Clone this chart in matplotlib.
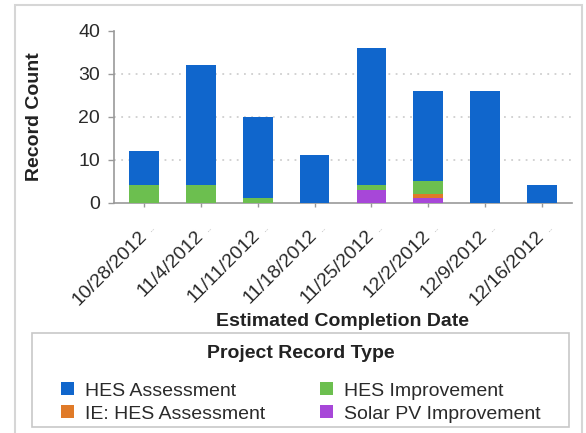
import matplotlib
matplotlib.use("Agg")
import matplotlib.pyplot as plt
from matplotlib.patches import Patch, Rectangle
import numpy as np

plt.rcParams['font.family'] = ['Liberation Sans', 'DejaVu Sans']

# Weekly record counts by project record type
dates = ['10/28/2012', '11/4/2012', '11/11/2012', '11/18/2012',
         '11/25/2012', '12/2/2012', '12/9/2012', '12/16/2012']
solar_pv_improvement = [0, 0, 0, 0, 3, 1, 0, 0]
ie_hes_assessment = [0, 0, 0, 0, 0, 1, 0, 0]
hes_improvement = [4, 4, 1, 0, 1, 3, 0, 0]
hes_assessment = [8, 28, 19, 11, 32, 21, 26, 4]
y_ticks = [0, 10, 20, 30, 40]
grid_levels = [10, 20, 30]

series = [
    ('Solar PV Improvement', solar_pv_improvement, '#a747d8'),
    ('IE: HES Assessment', ie_hes_assessment, '#e07a28'),
    ('HES Improvement', hes_improvement, '#6cbf4f'),
    ('HES Assessment', hes_assessment, '#1066cc'),
]

W, H = 586, 433
fig = plt.figure(figsize=(W / 100, H / 100), dpi=100)
ax = fig.add_axes([114 / W, 1 - 202.7 / H, 458 / W, 172 / H])

x = np.arange(len(dates))
bottom = np.zeros(len(dates))
for name, vals, color in series:
    vals = np.array(vals, dtype=float)
    ax.bar(x, vals, width=0.52, bottom=bottom, color=color, zorder=3, linewidth=0)
    bottom += vals

for lvl in grid_levels:
    ax.axhline(lvl, color='#cfcfcf', lw=1.3, linestyle=(0, (1, 3)), zorder=1)

ax.set_xlim(-0.53, 7.53)
ax.set_ylim(0, 40)
ax.set_yticks(y_ticks)
ax.set_xticks(x)
ax.set_xticklabels(dates, rotation=45, ha='right', va='center',
                   rotation_mode='anchor')
for lab in ax.get_xticklabels():
    lab.set_color('#2a2a2a')

ax.tick_params(axis='x', length=3, width=1, color='#999999', pad=19,
               labelsize=14)
ax.tick_params(axis='y', length=4, width=1, color='#999999', pad=6,
               labelsize=14, labelcolor='#2a2a2a')

for side in ('top', 'right'):
    ax.spines[side].set_visible(False)
for side in ('left', 'bottom'):
    ax.spines[side].set_color('#999999')
    ax.spines[side].set_linewidth(1.2)

# faded overflow marks after each date label
for xi in x:
    ax.annotate('..', xy=(xi, 0), xycoords=('data', 'axes fraction'),
                xytext=(3.6, -19.5), textcoords='offset points',
                rotation=45, rotation_mode='anchor', ha='left', va='center',
                fontsize=9, color='#bdbdbd', annotation_clip=False)

ax.set_ylabel('Record Count', fontsize=14, fontweight='bold', color='#222222')
ax.yaxis.set_label_coords((43 - 114) / 458, 0.5)
ax.set_xlabel('Estimated Completion Date', fontsize=14, fontweight='bold',
              color='#222222')
ax.xaxis.label.set_va('center')
ax.xaxis.set_label_coords(0.5, (202.7 - 321.7) / 172)

# outer frame
fig.patches.append(Rectangle((15 / W, -0.02), (582 - 15) / W, (433 - 5) / H + 0.02,
                             transform=fig.transFigure, fill=False,
                             edgecolor='#d6d6d6', linewidth=1.5))

# legend panel
fig.patches.append(Rectangle((32 / W, 1 - 427 / H), (569 - 32) / W, 94 / H,
                             transform=fig.transFigure, facecolor='white',
                             edgecolor='#c8c8c8', linewidth=1.2))
fig.text(300.5 / W, 1 - 353 / H, 'Project Record Type', ha='center',
         va='center', fontsize=14, fontweight='bold', color='#222222')

legend_order = ['HES Assessment', 'IE: HES Assessment',
                'HES Improvement', 'Solar PV Improvement']
color_of = {name: color for name, _, color in series}
handles = [Patch(facecolor=color_of[n], edgecolor='none') for n in legend_order]
fig.legend(handles, legend_order, ncol=2, frameon=False, mode='expand',
           loc='center', bbox_to_anchor=(61 / W, 1 - 402.5 / H, (541 - 61) / W, 0),
           borderpad=0, borderaxespad=0, handlelength=0.65, handleheight=0.65,
           handletextpad=0.6, labelspacing=0.3, fontsize=14,
           labelcolor='#2a2a2a')

fig.savefig('out.png', dpi=100)
